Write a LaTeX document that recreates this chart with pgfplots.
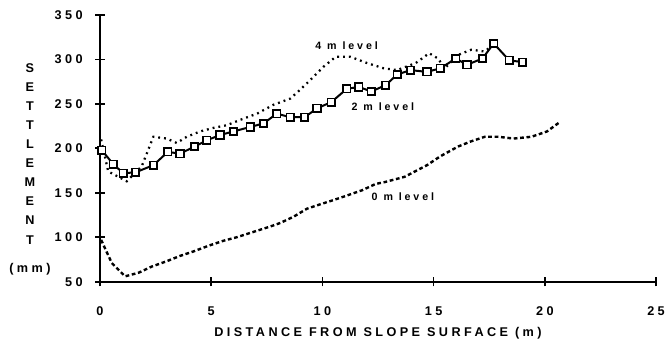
\documentclass[border=0pt]{standalone}
\usepackage{fontspec}
\setmainfont{Liberation Sans}[LetterSpace=27]
\usepackage{pgfplots}
\pgfplotsset{compat=1.18}
\begin{document}
\begin{tikzpicture}
\begin{axis}[
  scale only axis,
  width=417pt, height=200pt,
  xmin=0, xmax=25, ymin=50, ymax=350,
  axis x line=bottom, axis y line=left,
  axis line style={-, line width=1.5pt},
  xtick={0,5,10,15,20,25}, ytick={50,100,150,200,250,300,350},
  xticklabels={0,5,10,15,20,25},
  yticklabels={50,100,150,200,250,300,350},
  tick align=center, major tick length=7pt,
  tick style={line width=1.3pt, black},
  ticklabel style={font=\fontsize{9.5}{10}\selectfont\bfseries},
  xticklabel style={yshift=-12pt},
  yticklabel style={xshift=-6pt},
  clip=false,
]
\coordinate (O) at (rel axis cs:0,0);
\coordinate (TR) at (rel axis cs:1,1);
% 0 m level
\addplot[black, line width=1.8pt, dash pattern=on 2.8pt off 2pt] coordinates {
(0.05,97) (0.53,71) (1.13,56) (1.73,60) (2.33,67) (3.0,73) (3.6,79) (4.2,84) (4.95,91) (5.55,96) (6.15,100) (6.9,106) (7.65,112) (8.1,116) (8.7,123) (9.3,132) (9.9,137) (10.4,141) (11.0,146) (11.8,153) (12.4,160) (12.8,162) (13.7,168) (14.7,181) (15.3,191) (16.1,202) (16.7,208) (17.3,213) (17.9,213) (18.6,211) (19.4,213) (20.1,219) (20.7,230)
};
% 4 m level
\addplot[black, line width=1.7pt, dash pattern=on 1.4pt off 3pt] coordinates {
(0.05,210) (0.37,174) (1.2,163) (1.88,180) (2.4,213) (3.0,211) (3.45,206) (3.9,213) (4.5,219) (5.1,223) (5.7,226) (6.3,232) (7.06,239) (7.8,249) (8.56,256) (9.0,266) (9.46,277) (10.06,292) (10.6,303) (11.26,303) (12.0,296) (12.76,290) (13.36,288) (14.2,296) (14.8,307) (15.2,301) (15.5,290) (16.1,305) (16.7,311) (17.27,309) (17.7,316)
};
% 2 m level
\addplot[black, line width=1.5pt, mark=square*, mark size=2.8pt, mark options={fill=white, solid, line width=1.3pt}] coordinates {
(0.08,198) (0.6,182) (1.05,172) (1.6,173) (2.4,181) (3.05,196) (3.6,194) (4.25,202) (4.8,209) (5.4,215) (6.0,219) (6.75,224) (7.35,228) (7.95,239) (8.55,235) (9.2,235) (9.76,245) (10.4,252) (11.1,267) (11.64,269) (12.2,264) (12.84,271) (13.36,283) (13.96,288) (14.7,286) (15.3,290) (16.0,301) (16.5,294) (17.2,301) (17.7,318) (18.4,299) (19.0,297)
};
\node[font=\fontsize{8}{9}\selectfont\bfseries] at (axis cs:11.09,315) {4 m level};
\node[font=\fontsize{8}{9}\selectfont\bfseries] at (axis cs:12.72,246.6) {2 m level};
\node[font=\fontsize{8}{9}\selectfont\bfseries] at (axis cs:13.62,145.5) {0 m level};
\node[font=\fontsize{9.5}{14.3}\selectfont\bfseries, align=center, inner sep=0pt] at (axis cs:-3.15,193.8) {S\\E\\T\\T\\L\\E\\M\\E\\N\\T};
\node[font=\fontsize{9.5}{10}\selectfont\bfseries, inner sep=0pt] at (axis cs:-3.15,63.5) {(mm)};
\node[font=\fontsize{9.5}{10}\selectfont\bfseries, inner sep=0pt] at (axis cs:12.5,50) [yshift=-38.5pt] {DISTANCE FROM SLOPE SURFACE (m)};
\end{axis}
\pgfresetboundingbox
\path ([xshift=-75pt,yshift=-50.25pt]O) rectangle ([xshift=8.25pt,yshift=11.25pt]TR);
\end{tikzpicture}
\end{document}
